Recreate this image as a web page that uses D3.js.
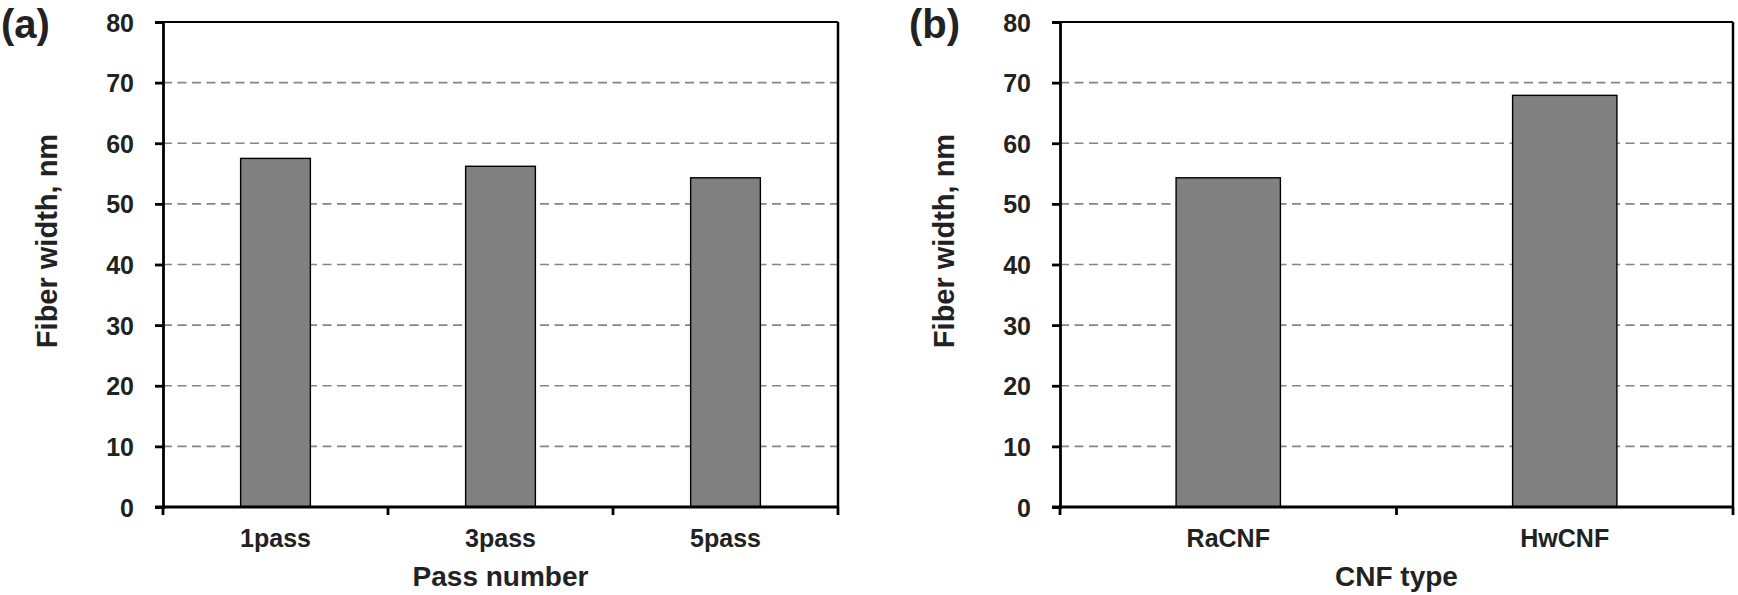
<!DOCTYPE html>
<html>
<head>
<meta charset="utf-8">
<script src="https://cdnjs.cloudflare.com/ajax/libs/d3/7.8.5/d3.min.js"></script>
<style>
  body { margin: 0; background: #fff; }
  text { font-family: "Liberation Sans", Arial, sans-serif; font-weight: bold; fill: #222; }
</style>
</head>
<body>
<div></div>
<script>
const width = 1738;
const height = 595;

// data
const passCategories = ["1pass", "3pass", "5pass"];
const passValues = [57.5, 56.2, 54.3];
const cnfCategories = ["RaCNF", "HwCNF"];
const cnfValues = [54.3, 67.9];
const yTicks = [0, 10, 20, 30, 40, 50, 60, 70, 80];
const gridTicks = [10, 20, 30, 40, 50, 60, 70];

const svg = d3
  .select("div")
  .append("svg")
  .attr("width", width)
  .attr("height", height);

const top_Y = 22;
const bottom_Y = 507;

const scale_Y = d3.scaleLinear().domain([0, 80]).range([bottom_Y, top_Y]);

function drawPanel(cfg) {
  const g = svg.append("g");

  const scale_X = d3
    .scaleBand()
    .domain(cfg.categories)
    .range([cfg.left, cfg.right])
    .paddingInner(0.69)
    .paddingOuter(0.345);

  // dashed grid
  g.selectAll(".grid")
    .data(gridTicks)
    .enter()
    .append("line")
    .attr("x1", cfg.left)
    .attr("x2", cfg.right)
    .attr("y1", (d) => scale_Y(d))
    .attr("y2", (d) => scale_Y(d))
    .attr("stroke", "#858585")
    .attr("stroke-width", 1.7)
    .attr("stroke-dasharray", "9,5.5");

  // bars
  g.selectAll(".bar")
    .data(cfg.values)
    .enter()
    .append("rect")
    .attr("x", (d, i) => scale_X(cfg.categories[i]))
    .attr("y", (d) => scale_Y(d))
    .attr("width", scale_X.bandwidth())
    .attr("height", (d) => scale_Y(0) - scale_Y(d))
    .attr("fill", "#808080")
    .attr("stroke", "#000")
    .attr("stroke-width", 1.4);

  // top and right frame
  g.append("line")
    .attr("x1", cfg.left - 8)
    .attr("x2", cfg.right)
    .attr("y1", top_Y)
    .attr("y2", top_Y)
    .attr("stroke", "#000")
    .attr("stroke-width", 2.2);
  g.append("line")
    .attr("x1", cfg.right)
    .attr("x2", cfg.right)
    .attr("y1", top_Y)
    .attr("y2", bottom_Y)
    .attr("stroke", "#000")
    .attr("stroke-width", 2.5);

  // y axis
  const axis_Y = d3.axisLeft(scale_Y).tickValues(yTicks).tickSize(8).tickPadding(21);
  const gy = g
    .append("g")
    .attr("transform", "translate(" + cfg.left + ",0)")
    .call(axis_Y);
  gy.select(".domain").attr("stroke", "#000").attr("stroke-width", 2.8);
  gy.selectAll(".tick line").attr("stroke", "#000").attr("stroke-width", 2.8);
  gy.selectAll(".tick text")
    .style("font-size", "25px")
    .attr("fill", "#222")
    .attr("dy", "0.36em");

  // x axis line and boundary ticks
  g.append("line")
    .attr("x1", cfg.left - 8)
    .attr("x2", cfg.right + 1)
    .attr("y1", bottom_Y)
    .attr("y2", bottom_Y)
    .attr("stroke", "#000")
    .attr("stroke-width", 2.8);

  const half = (scale_X.step() - scale_X.bandwidth()) / 2;
  const bounds = cfg.categories
    .map((c) => scale_X(c) - half)
    .concat([cfg.right]);
  g.selectAll(".xtick")
    .data(bounds)
    .enter()
    .append("line")
    .attr("x1", (d) => d)
    .attr("x2", (d) => d)
    .attr("y1", bottom_Y)
    .attr("y2", bottom_Y + 8)
    .attr("stroke", "#000")
    .attr("stroke-width", 2.8);

  g.selectAll(".xlabel")
    .data(cfg.categories)
    .enter()
    .append("text")
    .attr("x", (d) => scale_X(d) + scale_X.bandwidth() / 2)
    .attr("y", 547)
    .attr("text-anchor", "middle")
    .style("font-size", "25px")
    .text((d) => d);

  // axis titles
  g.append("text")
    .attr("x", (cfg.left + cfg.right) / 2)
    .attr("y", 586)
    .attr("text-anchor", "middle")
    .style("font-size", "28px")
    .text(cfg.xTitle);

  g.append("text")
    .attr("transform", "translate(" + (cfg.left - 106) + ",241) rotate(-90)")
    .attr("text-anchor", "middle")
    .style("font-size", "29px")
    .text("Fiber width, nm");

  g.append("text")
    .attr("x", cfg.labelX)
    .attr("y", 38)
    .style("font-size", "40px")
    .text(cfg.label);
}

drawPanel({
  categories: passCategories,
  values: passValues,
  left: 163,
  right: 838,
  xTitle: "Pass number",
  label: "(a)",
  labelX: 1
});

drawPanel({
  categories: cnfCategories,
  values: cnfValues,
  left: 1060,
  right: 1733,
  xTitle: "CNF type",
  label: "(b)",
  labelX: 909
});
</script>
</body>
</html>
